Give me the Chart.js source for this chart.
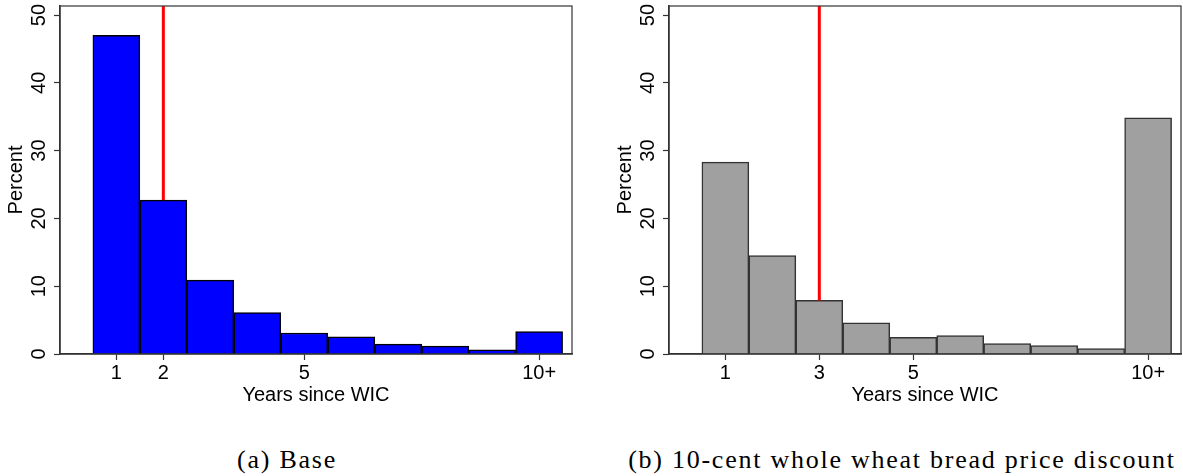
<!DOCTYPE html>
<html>
<head>
<meta charset="utf-8">
<script src="https://cdn.jsdelivr.net/npm/chart.js@4.4.0/dist/chart.umd.min.js"></script>
<style>
  body { margin: 0; background: #fff; width: 1183px; height: 476px; position: relative; overflow: hidden; }
  .panel { position: absolute; top: 0; height: 411px; }
  #p1 { left: 0; width: 590px; }
  #p2 { left: 609px; width: 574px; }
  .cap { position: absolute; top: 447px; line-height: 26px; font-family: "Liberation Serif", "Times New Roman", serif;
         font-size: 26px; letter-spacing: 1.75px; white-space: nowrap; color: #000; transform: translateX(-50%); }
</style>
</head>
<body>
<div class="panel" id="p1"><canvas id="baseChart"></canvas></div>
<div class="panel" id="p2"><canvas id="discChart"></canvas></div>
<div class="cap" style="left:287px">(a) Base</div>
<div class="cap" style="left:902px">(b) 10-cent whole wheat bread price discount</div>

<script>
// years since WIC (10 = "10+")
const years = [1, 2, 3, 4, 5, 6, 7, 8, 9, 10];
const basePct = [47.0, 22.7, 10.9, 6.1, 3.1, 2.55, 1.45, 1.15, 0.6, 3.3];
const discountPct = [28.3, 14.5, 7.9, 4.6, 2.45, 2.7, 1.55, 1.25, 0.8, 34.85];
const yTicks = [0, 10, 20, 30, 40, 50];
const baseXTicks = [1, 2, 5, 10];
const discountXTicks = [1, 3, 5, 10];
const xTickText = { 1: '1', 2: '2', 3: '3', 5: '5', 10: '10+' };
const baseCutoff = 2;
const discountCutoff = 3;

const X_MIN = -0.2, X_MAX = 10.7;
const Y_MAX = 51.33;
const sans = '"Liberation Sans", Arial, Helvetica, sans-serif';

// box around plot + vertical y tick labels (Stata style)
const frameAndYLabels = {
  id: 'frameAndYLabels',
  afterDraw(chart) {
    const { ctx, chartArea: a, scales: { y } } = chart;
    ctx.save();
    ctx.strokeStyle = '#333';
    ctx.lineWidth = 1.2;
    ctx.strokeRect(a.left, a.top, a.right - a.left, a.bottom - a.top);
    ctx.fillStyle = '#000';
    ctx.font = '20px ' + sans;
    ctx.textAlign = 'center';
    ctx.textBaseline = 'middle';
    y.ticks.forEach(t => {
      ctx.save();
      ctx.translate(a.left - 21, y.getPixelForValue(t.value));
      ctx.rotate(-Math.PI / 2);
      ctx.fillText(String(t.value), 0, 0);
      ctx.restore();
    });
    ctx.restore();
  }
};

function makeChart(id, values, fill, edge, xTicks, cutoff, padRight) {
  const cutoffTop = values[years.indexOf(cutoff)];
  return new Chart(document.getElementById(id), {
    type: 'bar',
    data: {
      datasets: [{
        type: 'line',
        data: [{ x: cutoff, y: cutoffTop }, { x: cutoff, y: Y_MAX }],
        borderColor: '#ff0000',
        borderWidth: 3,
        pointRadius: 0,
        order: 0
      }, {
        data: years.map((x, i) => ({ x: x, y: values[i] })),
        backgroundColor: fill,
        borderColor: edge,
        borderWidth: 1.5,
        barPercentage: 1,
        categoryPercentage: 1,
        order: 1
      }]
    },
    options: {
      responsive: true,
      maintainAspectRatio: false,
      animation: false,
      layout: { padding: { top: 6, right: padRight, bottom: 0, left: 0 } },
      plugins: { legend: { display: false }, tooltip: { enabled: false } },
      scales: {
        x: {
          type: 'linear',
          min: X_MIN,
          max: X_MAX,
          offset: false,
          afterBuildTicks: s => { s.ticks = xTicks.map(v => ({ value: v })); },
          afterFit: s => { s.height = 57; },
          grid: { drawOnChartArea: false, offset: false, tickLength: 6, tickColor: '#333', tickWidth: 1.2 },
          border: { display: true, color: '#333', width: 1.5 },
          ticks: {
            padding: 1, color: '#000', maxRotation: 0, autoSkip: false,
            font: { size: 20, family: sans },
            callback: v => xTickText[v]
          },
          title: { display: true, text: 'Years since WIC', color: '#000', font: { size: 20, family: sans } }
        },
        y: {
          min: 0,
          max: Y_MAX,
          afterBuildTicks: s => { s.ticks = yTicks.map(v => ({ value: v })); },
          afterFit: s => { s.width = 60; },
          grid: { drawOnChartArea: false, tickLength: 6, tickColor: '#333', tickWidth: 1.2 },
          border: { display: true, color: '#333', width: 1.5 },
          ticks: { display: false },
          title: { display: true, text: 'Percent', color: '#000', font: { size: 20, family: sans } }
        }
      }
    },
    plugins: [frameAndYLabels]
  });
}

makeChart('baseChart', basePct, '#0000ff', '#000000', baseXTicks, baseCutoff, 18);
makeChart('discChart', discountPct, '#a0a0a0', '#333333', discountXTicks, discountCutoff, 2);
</script>
</body>
</html>
